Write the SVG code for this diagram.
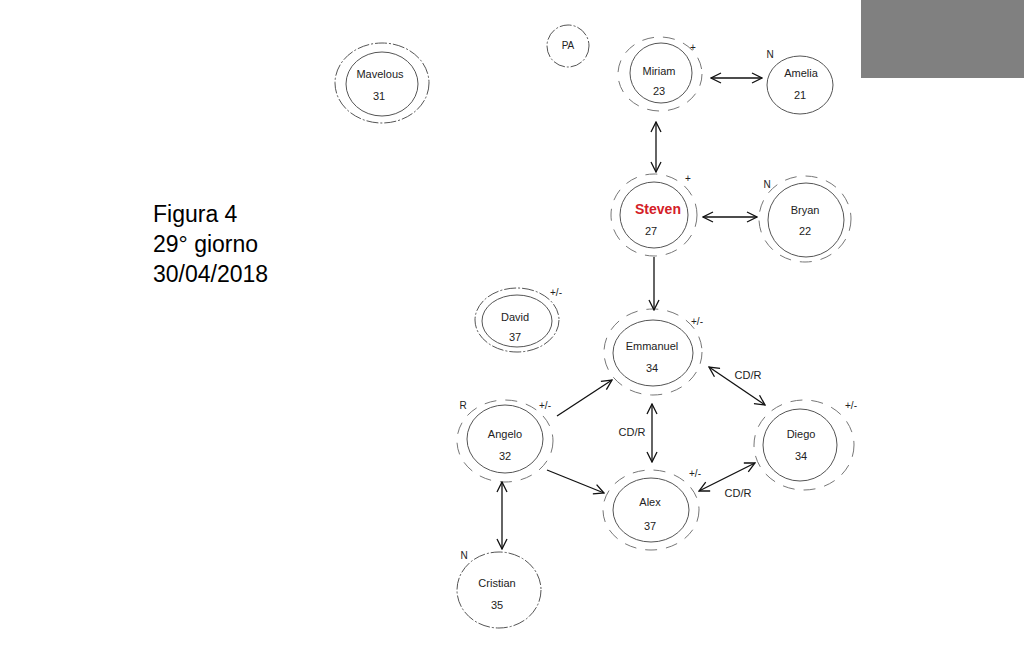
<svg xmlns="http://www.w3.org/2000/svg" width="1024" height="661" viewBox="0 0 1024 661">
<style>
.t{font-family:"Liberation Sans",Arial,sans-serif;font-size:11px;fill:#222;text-anchor:middle}
.m{font-family:"Liberation Sans",Arial,sans-serif;font-size:10px;fill:#222;text-anchor:middle}
.big{font-family:"Liberation Sans",Arial,sans-serif;font-size:23px;fill:#000}
.in{fill:none;stroke:#555;stroke-width:1}
.dd{fill:none;stroke:#555;stroke-width:1;stroke-dasharray:12 2 2 2}
.ds{fill:none;stroke:#777;stroke-width:1;stroke-dasharray:12 9}
.ar{stroke:#111;stroke-width:1.3;fill:none}
</style>
<defs>
<marker id="a" viewBox="0 0 12 12" refX="11" refY="6" markerWidth="12" markerHeight="12" markerUnits="userSpaceOnUse" orient="auto-start-reverse">
<path d="M1,1 L11,6 L1,11" fill="none" stroke="#111" stroke-width="1.3"/>
</marker>
</defs>
<rect x="0" y="0" width="1024" height="661" fill="#fff"/>
<rect x="861" y="0" width="163" height="78" fill="#808080"/>
<g id="caption">
<text class="big" x="153" y="222">Figura 4</text>
<text class="big" x="153" y="252">29° giorno</text>
<text class="big" x="153" y="282">30/04/2018</text>
</g>
<g id="Mavelous">
<ellipse class="dd" cx="382" cy="83" rx="47" ry="40"/>
<ellipse class="in" cx="382" cy="84" rx="36" ry="32"/>
<text class="t" x="380" y="78">Mavelous</text>
<text class="t" x="379" y="100">31</text>
</g>
<g id="PA">
<circle class="dd" cx="568" cy="46" r="21"/>
<text class="m" x="568" y="49">PA</text>
</g>
<g id="Miriam">
<ellipse class="ds" cx="660" cy="74" rx="42" ry="37"/>
<ellipse class="in" cx="661" cy="73" rx="31" ry="30"/>
<text class="m" x="693" y="51">+</text>
<text class="t" x="659" y="75">Miriam</text>
<text class="t" x="659" y="95">23</text>
</g>
<g id="Amelia">
<ellipse class="in" cx="800" cy="85" rx="33" ry="29"/>
<text class="m" x="770" y="58">N</text>
<text class="t" x="801" y="77">Amelia</text>
<text class="t" x="800" y="99">21</text>
</g>
<g id="Steven">
<ellipse class="ds" cx="654" cy="215" rx="43" ry="41"/>
<ellipse class="in" cx="654" cy="215" rx="34" ry="33"/>
<text class="m" x="688" y="182">+</text>
<text x="658" y="214" font-family="'Liberation Sans',Arial,sans-serif" font-size="14" font-weight="bold" fill="#d42027" text-anchor="middle">Steven</text>
<text class="t" x="651" y="235">27</text>
</g>
<g id="Bryan">
<ellipse class="ds" cx="805" cy="219" rx="46" ry="43"/>
<ellipse class="in" cx="806" cy="220" rx="38" ry="37"/>
<text class="m" x="767" y="188">N</text>
<text class="t" x="805" y="214">Bryan</text>
<text class="t" x="805" y="235">22</text>
</g>
<g id="David">
<ellipse class="dd" cx="517" cy="320" rx="42" ry="32"/>
<ellipse class="in" cx="517" cy="321" rx="35" ry="26"/>
<text class="m" x="556" y="296">+/-</text>
<text class="t" x="515" y="321">David</text>
<text class="t" x="515" y="341">37</text>
</g>
<g id="Emmanuel">
<ellipse class="ds" cx="653" cy="352" rx="49" ry="43"/>
<ellipse class="in" cx="653" cy="353" rx="40" ry="33"/>
<text class="m" x="697" y="325">+/-</text>
<text class="t" x="652" y="350">Emmanuel</text>
<text class="t" x="652" y="372">34</text>
</g>
<g id="Angelo">
<ellipse class="ds" cx="505" cy="441" rx="48" ry="41"/>
<ellipse class="in" cx="505" cy="439" rx="38" ry="34"/>
<text class="m" x="463" y="409">R</text>
<text class="m" x="545" y="409">+/-</text>
<text class="t" x="505" y="438">Angelo</text>
<text class="t" x="505" y="460">32</text>
</g>
<g id="Diego">
<ellipse class="ds" cx="804" cy="445" rx="50" ry="45"/>
<ellipse class="in" cx="800" cy="445" rx="37" ry="36"/>
<text class="m" x="851" y="409">+/-</text>
<text class="t" x="801" y="438">Diego</text>
<text class="t" x="801" y="460">34</text>
</g>
<g id="Alex">
<ellipse class="ds" cx="651" cy="510" rx="48" ry="40"/>
<ellipse class="in" cx="651" cy="510" rx="38" ry="32"/>
<text class="m" x="695" y="477">+/-</text>
<text class="t" x="650" y="506">Alex</text>
<text class="t" x="650" y="530">37</text>
</g>
<g id="Cristian">
<ellipse class="dd" cx="499" cy="590" rx="42" ry="38"/>
<text class="m" x="464" y="559">N</text>
<text class="t" x="497" y="587">Cristian</text>
<text class="t" x="497" y="609">35</text>
</g>
<g id="connectors">
<line class="ar" x1="711" y1="78" x2="762" y2="78" marker-start="url(#a)" marker-end="url(#a)"/>
<line class="ar" x1="656" y1="122" x2="656" y2="172" marker-start="url(#a)" marker-end="url(#a)"/>
<line class="ar" x1="703" y1="217" x2="757" y2="217" marker-start="url(#a)" marker-end="url(#a)"/>
<line class="ar" x1="654" y1="257" x2="654" y2="310" marker-end="url(#a)"/>
<line class="ar" x1="557" y1="416" x2="612" y2="380" marker-end="url(#a)"/>
<line class="ar" x1="547" y1="470" x2="604" y2="493" marker-end="url(#a)"/>
<line class="ar" x1="652" y1="404" x2="652" y2="462" marker-start="url(#a)" marker-end="url(#a)"/>
<line class="ar" x1="709" y1="367" x2="765" y2="405" marker-start="url(#a)" marker-end="url(#a)"/>
<line class="ar" x1="699" y1="491" x2="755" y2="463" marker-start="url(#a)" marker-end="url(#a)"/>
<line class="ar" x1="502" y1="482" x2="502" y2="549" marker-start="url(#a)" marker-end="url(#a)"/>
<text class="t" x="632" y="436">CD/R</text>
<text class="t" x="748" y="379">CD/R</text>
<text class="t" x="738" y="497">CD/R</text>
</g>
</svg>
